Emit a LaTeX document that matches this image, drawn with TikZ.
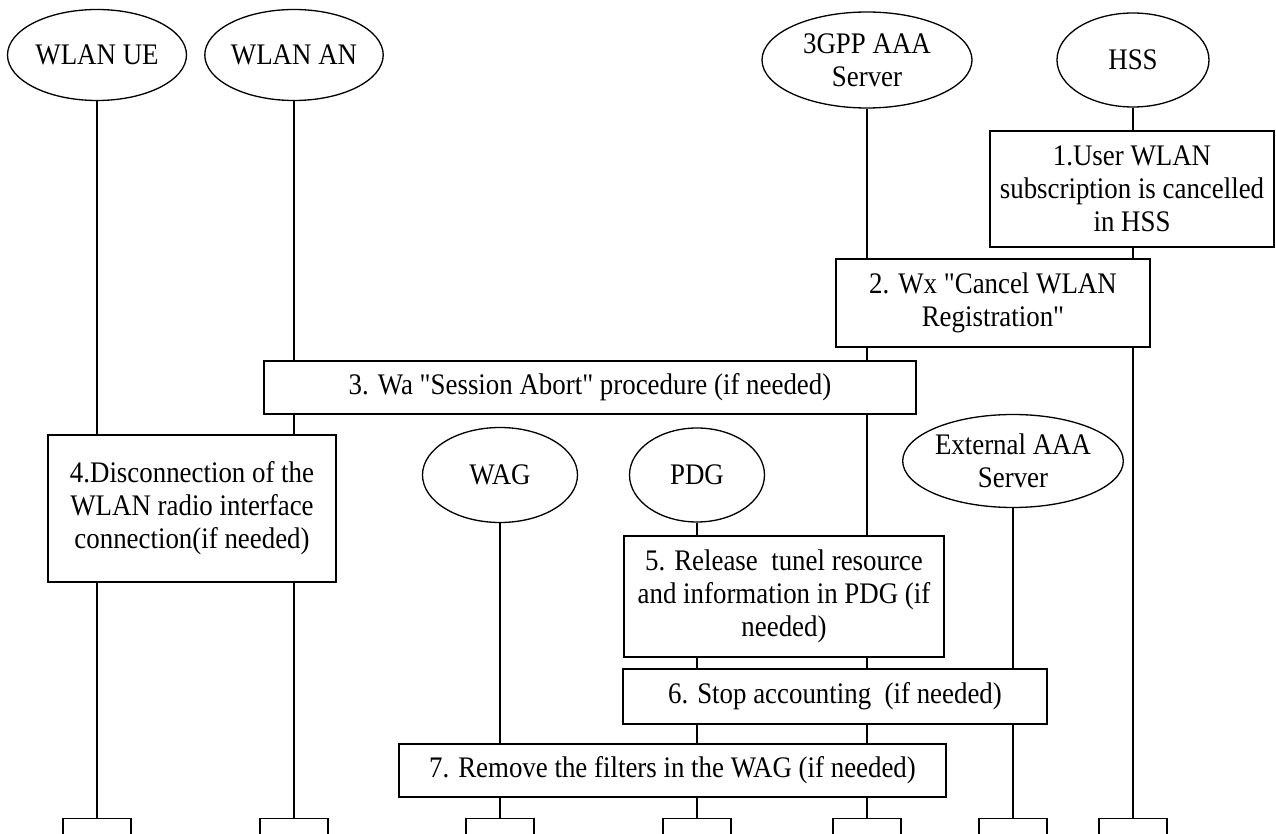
\documentclass[tikz,border=0pt]{standalone}
\usepackage{fontspec}
\newfontfamily\diagfont{Liberation Serif}[FakeStretch=0.9]
\usetikzlibrary{shapes.geometric}

\tikzset{
    actor/.style 2 args={ellipse, draw, line width=0.75pt, inner sep=0pt, align=center,
        minimum width=#1*0.02cm, minimum height=#2*0.02cm},
    stepbox/.style 2 args={rectangle, draw, line width=0.75pt, inner sep=0pt, align=center,
        minimum width=#1*0.02cm, minimum height=#2*0.02cm},
    endbox/.style={rectangle, draw, line width=0.75pt, anchor=north,
        minimum width=68*0.02cm, minimum height=40*0.02cm},
    life/.style={line width=0.75pt}
}

\begin{document}
\begin{tikzpicture}[x=0.02cm, y=-0.02cm, font=\diagfont\fontsize{17}{18.8}\selectfont]
    \def\yend{818}
    \useasboundingbox (0,0) rectangle (1276,834);

    % the network elements
    \node[actor={179}{91}] (ue) at (97,55) {WLAN UE};
    \node[actor={176}{91}] (an) at (294,55) {WLAN AN};
    \node[actor={210}{96}] (aaa) at (867,60) {3GPP AAA\\Server};
    \node[actor={152}{94}] (hss) at (1133,60) {HSS};
    \node[actor={155}{95}] (wag) at (500,475) {WAG};
    \node[actor={135}{94}] (pdg) at (697,475) {PDG};
    \node[actor={210}{93}] (ext) at (1013,461) {External AAA\\Server};

    % the steps
    \node[stepbox={284}{116}] (s1) at (1132,189) {1.User WLAN\\subscription is cancelled\\in HSS};
    \node[stepbox={314}{88}] (s2) at (993,303) {2. Wx "Cancel WLAN\\Registration"};
    \node[stepbox={652}{53}] (s3) at (590,387.5) {3. Wa "Session Abort" procedure (if needed)};
    \node[stepbox={288}{147}] (s4) at (192,508.5) {4.Disconnection of the\\WLAN radio interface\\connection(if needed)};
    \node[stepbox={320}{121}] (s5) at (784,596.5) {5. Release\ \ tunel resource\\and information in PDG (if\\needed)};
    \node[stepbox={424}{55}] (s6) at (835,696.5) {6. Stop accounting\ \ (if needed)};
    \node[stepbox={547}{53}] (s7) at (672.5,770.5) {7. Remove the filters in the WAG (if needed)};

    % end of the lifelines
    \node[endbox] (ueend) at (97,\yend) {};
    \node[endbox] (anend) at (294,\yend) {};
    \node[endbox] (wagend) at (500,\yend) {};
    \node[endbox] (pdgend) at (697,\yend) {};
    \node[endbox] (aaaend) at (867,\yend) {};
    \node[endbox] (extend) at (1013,\yend) {};
    \node[endbox] (hssend) at (1133,\yend) {};

    % WLAN UE
    \draw[life] (ue) -- (ue |- s4.north);
    \draw[life] (ue |- s4.south) -- (ueend);
    % WLAN AN
    \draw[life] (an) -- (an |- s3.north);
    \draw[life] (an |- s3.south) -- (an |- s4.north);
    \draw[life] (an |- s4.south) -- (anend);
    % 3GPP AAA Server
    \draw[life] (aaa) -- (aaa |- s2.north);
    \draw[life] (aaa |- s2.south) -- (aaa |- s3.north);
    \draw[life] (aaa |- s3.south) -- (aaa |- s5.north);
    \draw[life] (aaa |- s5.south) -- (aaa |- s6.north);
    \draw[life] (aaa |- s6.south) -- (aaa |- s7.north);
    \draw[life] (aaa |- s7.south) -- (aaaend);
    % HSS
    \draw[life] (hss) -- (hss |- s1.north);
    \draw[life] (hss |- s1.south) -- (hss |- s2.north);
    \draw[life] (hss |- s2.south) -- (hssend);
    % WAG
    \draw[life] (wag) -- (wag |- s7.north);
    \draw[life] (wag |- s7.south) -- (wagend);
    % PDG
    \draw[life] (pdg) -- (pdg |- s5.north);
    \draw[life] (pdg |- s5.south) -- (pdg |- s6.north);
    \draw[life] (pdg |- s6.south) -- (pdg |- s7.north);
    \draw[life] (pdg |- s7.south) -- (pdgend);
    % External AAA Server
    \draw[life] (ext) -- (ext |- s6.north);
    \draw[life] (ext |- s6.south) -- (extend);
\end{tikzpicture}
\end{document}
